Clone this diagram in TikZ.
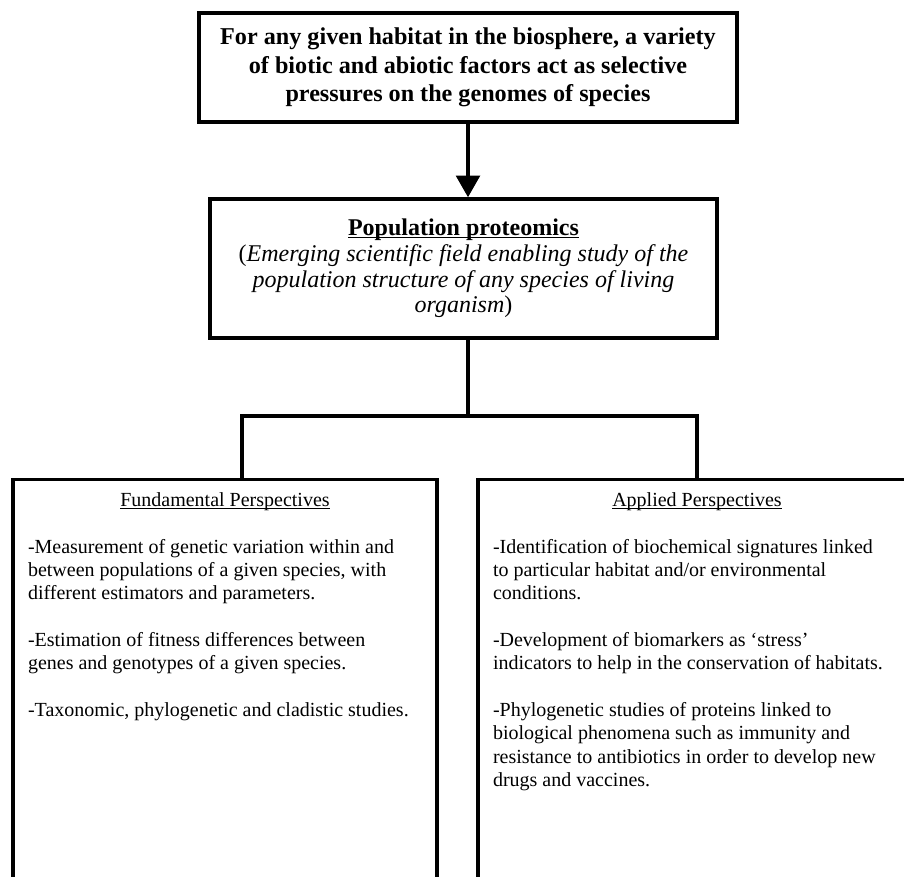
\documentclass[tikz,border=0pt]{standalone}
\usepackage{fontspec}
\setmainfont{Liberation Serif}
\usetikzlibrary{positioning,arrows.meta}
\tikzset{
    frame/.style={draw=black,line width=2pt,inner sep=0pt},
    headbox/.style={frame,align=center,font=\fontsize{14.5}{17.1}\selectfont\bfseries},
    fieldbox/.style={frame,align=center,font=\fontsize{14.4}{15.4}\selectfont},
    viewbox/.style={frame,anchor=north,inner xsep=9pt,inner ysep=0pt,
        font=\fontsize{12}{14}\selectfont},
    link/.style={black,line width=2.6pt,line join=miter},
    flow/.style={link,-{Triangle[length=13pt,width=14pt]}}
}
\newcommand{\lowline}[1]{\setbox0\hbox{#1}\rlap{\rule[-1.6pt]{\wd0}{0.6pt}}\box0}
\newcommand{\heading}[1]{\makebox[\linewidth][c]{\lowline{#1}}}
\newcommand{\viewtext}[2]{\parbox[t][260pt][t]{#1}{\raggedright\rule{0pt}{16pt}#2}}

\begin{document}
\begin{tikzpicture}[x=0.6pt,y=-0.6pt]
\useasboundingbox (0,0) rectangle (904,877);
\clip (0,0) rectangle (904,877);
\node[headbox,minimum width=322.8pt,minimum height=65.4pt] (habitat) at (468,67.5)
    {For any given habitat in the biosphere, a variety\\
     of biotic and abiotic factors act as selective\\
     pressures on the genomes of species};
\node[fieldbox,minimum width=304.2pt,minimum height=83.4pt] (proteomics) at (463.5,268.5)
    {\lowline{\textbf{Population proteomics}}\\
     (\textit{Emerging scientific field enabling study of the}\\
     \textit{population structure of any species of living}\\
     \textit{organism})};
\node[viewbox] (fund) at (225,478)
    {\viewtext{236.4pt}{\heading{Fundamental Perspectives}\\[14pt]
     -Measurement of genetic variation within and\\
     between populations of a given species, with\\
     different estimators and parameters.\\[14pt]
     -Estimation of fitness differences between\\
     genes and genotypes of a given species.\\[14pt]
     -Taxonomic, phylogenetic and cladistic studies.}};
\node[viewbox] (appl) at (697,478)
    {\viewtext{244.8pt}{\heading{Applied Perspectives}\\[14pt]
     -Identification of biochemical signatures linked\\
     to particular habitat and/or environmental\\
     conditions.\\[14pt]
     -Development of biomarkers as `stress'\\
     indicators to help in the conservation of habitats.\\[14pt]
     -Phylogenetic studies of proteins linked to\\
     biological phenomena such as immunity and\\
     resistance to antibiotics in order to develop new\\
     drugs and vaccines.}};
\coordinate (fork) at (468,416);
\coordinate (forkL) at (242,416);
\coordinate (forkR) at (697,416);
\draw[flow] (habitat.south) -- (habitat.south |- proteomics.north);
\draw[link] (fork |- proteomics.south) -- (fork);
\draw[link] (forkL |- fund.north) -- (forkL) -- (forkR) -- (forkR |- appl.north);
\end{tikzpicture}
\end{document}
